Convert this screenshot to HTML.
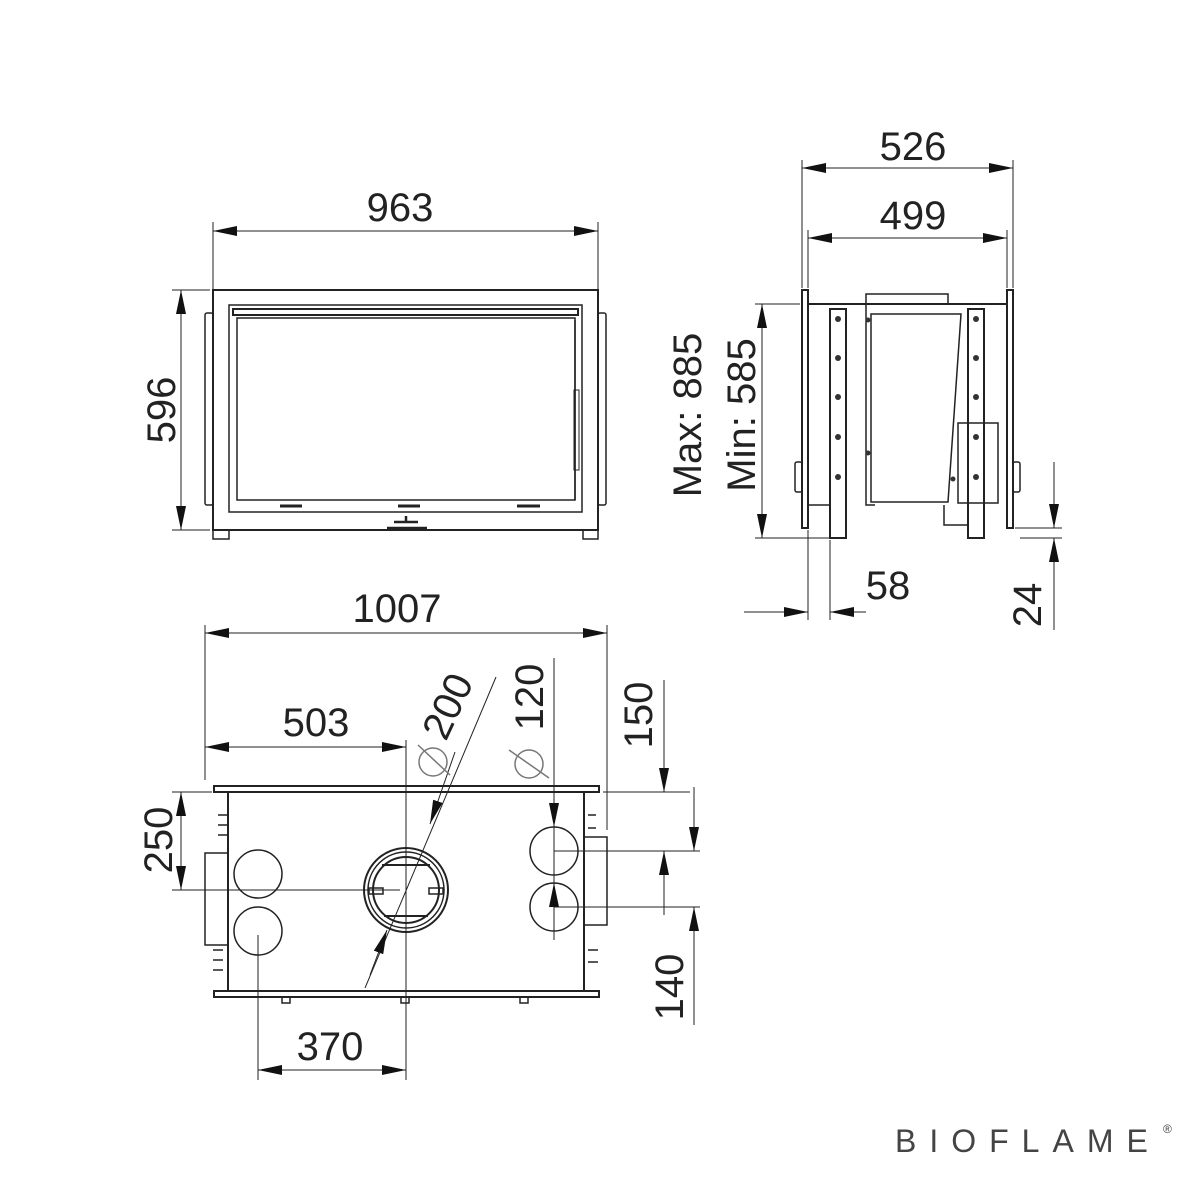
<!DOCTYPE html>
<html><head><meta charset="utf-8"><style>html,body{margin:0;padding:0;background:#fff}svg{display:block}</style></head><body>
<svg width="1200" height="1200" viewBox="0 0 1200 1200" xmlns="http://www.w3.org/2000/svg" font-family="Liberation Sans, sans-serif">
<defs>
<marker id="a" viewBox="0 0 24 10" refX="24" refY="5" markerWidth="24" markerHeight="10" markerUnits="userSpaceOnUse" orient="auto-start-reverse"><path d="M0,0 L24,5 L0,10Z" fill="#111"/></marker>
</defs>
<g stroke="#222" fill="none" stroke-width="1.5">
<rect x="213" y="290" width="385" height="240" stroke-width="2"/>
<rect x="229" y="305" width="353" height="207"/>
<rect x="233" y="309" width="345" height="6" stroke-width="2"/>
<rect x="237" y="318" width="338" height="182"/>
<rect x="205" y="313" width="8" height="192" rx="2"/>
<rect x="598" y="313" width="8" height="192" rx="2"/>
<rect x="213" y="530" width="16" height="9"/>
<rect x="583" y="530" width="15" height="9"/>
<line x1="575" y1="320" x2="575" y2="500"/>
<rect x="574" y="390" width="5" height="80" stroke-width="1"/>
<line x1="280" y1="506" x2="302" y2="506" stroke-width="3"/>
<line x1="398" y1="506" x2="420" y2="506" stroke-width="3"/>
<line x1="517" y1="506" x2="540" y2="506" stroke-width="3"/>
<path d="M394,522 L418,522 M406,516 L406,522 M387,528 L427,528" stroke-width="2.5"/>
<line x1="213" y1="222" x2="213" y2="290" stroke-width="1"/>
<line x1="598" y1="222" x2="598" y2="290" stroke-width="1"/>
<line x1="213" y1="231" x2="598" y2="231" stroke-width="1" marker-start="url(#a)" marker-end="url(#a)"/>
<line x1="172" y1="290" x2="210" y2="290" stroke-width="1"/>
<line x1="172" y1="530" x2="210" y2="530" stroke-width="1"/>
<line x1="181" y1="290" x2="181" y2="530" stroke-width="1" marker-start="url(#a)" marker-end="url(#a)"/>

<rect x="802" y="290" width="6" height="238" stroke-width="2"/>
<rect x="1007" y="290" width="6" height="238" stroke-width="2"/>
<line x1="808" y1="304" x2="1007" y2="304" stroke-width="2"/>
<rect x="866" y="294" width="82" height="10"/>
<rect x="830" y="309" width="16" height="229" stroke-width="2"/>
<rect x="968" y="309" width="16" height="229" stroke-width="2"/>
<path d="M871,314 L961,314 L948,502 L871,502 Z"/>
<path d="M866,304 L866,505 L875,505 M808,505 L830,505"/>
<rect x="958" y="423" width="40" height="80"/>
<rect x="795" y="462" width="7" height="30" rx="2"/>
<rect x="1013" y="462" width="7" height="30" rx="2"/>
<path d="M944,505 L944,525 L968,525"/>
<g fill="#333" stroke="none">
<circle cx="838" cy="319" r="3"/><circle cx="838" cy="358" r="3"/><circle cx="838" cy="397" r="3"/><circle cx="838" cy="437" r="3"/><circle cx="838" cy="477" r="3"/>
<circle cx="976" cy="319" r="3"/><circle cx="976" cy="358" r="3"/><circle cx="976" cy="397" r="3"/><circle cx="976" cy="437" r="3"/><circle cx="976" cy="477" r="3"/>
<circle cx="868" cy="320" r="2.5"/><circle cx="868" cy="453" r="2.5"/><circle cx="953" cy="479" r="2.5"/>
</g>
<line x1="802" y1="160" x2="802" y2="288" stroke-width="1"/>
<line x1="1013" y1="160" x2="1013" y2="288" stroke-width="1"/>
<line x1="808" y1="230" x2="808" y2="288" stroke-width="1"/>
<line x1="1007" y1="230" x2="1007" y2="288" stroke-width="1"/>
<line x1="802" y1="168" x2="1013" y2="168" stroke-width="1" marker-start="url(#a)" marker-end="url(#a)"/>
<line x1="808" y1="238" x2="1007" y2="238" stroke-width="1" marker-start="url(#a)" marker-end="url(#a)"/>
<line x1="755" y1="304" x2="800" y2="304" stroke-width="1"/>
<line x1="755" y1="538" x2="830" y2="538" stroke-width="1"/>
<line x1="762" y1="304" x2="762" y2="538" stroke-width="1" marker-start="url(#a)" marker-end="url(#a)"/>
<line x1="808" y1="530" x2="808" y2="620" stroke-width="1"/>
<line x1="830" y1="540" x2="830" y2="620" stroke-width="1"/>
<line x1="744" y1="612" x2="808" y2="612" stroke-width="1" marker-end="url(#a)"/>
<line x1="866" y1="612" x2="830" y2="612" stroke-width="1" marker-end="url(#a)"/>
<line x1="1015" y1="528" x2="1062" y2="528" stroke-width="1"/>
<line x1="1020" y1="538" x2="1062" y2="538" stroke-width="1"/>
<line x1="1054" y1="462" x2="1054" y2="528" stroke-width="1" marker-end="url(#a)"/>
<line x1="1054" y1="630" x2="1054" y2="538" stroke-width="1" marker-end="url(#a)"/>

<rect x="214" y="786" width="385" height="6" stroke-width="2"/>
<rect x="214" y="991" width="385" height="6" stroke-width="2"/>
<line x1="228" y1="792" x2="228" y2="991" stroke-width="2"/>
<line x1="584" y1="792" x2="584" y2="991" stroke-width="2"/>
<path d="M228,853 L205,853 L205,945 L228,945"/>
<path d="M584,837 L607,837 L607,925 L584,925"/>
<path d="M218,815 L228,815 M218,825 L228,825 M218,835 L228,835 M213,950 L223,950 M213,960 L223,960 M213,970 L223,970 M588,815 L596,815 M588,828 L596,828 M588,950 L598,950 M588,962 L598,962"/>
<circle cx="258" cy="874" r="24"/><circle cx="258" cy="931" r="24"/>
<circle cx="554" cy="851" r="24"/><circle cx="554" cy="907" r="24"/>
<circle cx="406" cy="890" r="42" stroke-width="2"/>
<circle cx="406" cy="890" r="38"/>
<circle cx="406" cy="890" r="33" stroke-width="2"/>
<path d="M382,865 L430,865 M384,916 L428,916" stroke-width="2"/>
<rect x="369" y="888" width="14" height="6"/><rect x="429" y="888" width="14" height="6"/>
<path d="M282,997 l0,6 l8,0 l0,-6 M401,997 l0,6 l8,0 l0,-6 M520,997 l0,6 l8,0 l0,-6"/>
<line x1="205" y1="625" x2="205" y2="780" stroke-width="1"/>
<line x1="607" y1="625" x2="607" y2="830" stroke-width="1"/>
<line x1="205" y1="633" x2="607" y2="633" stroke-width="1" marker-start="url(#a)" marker-end="url(#a)"/>
<line x1="406" y1="740" x2="406" y2="1080" stroke-width="1"/>
<line x1="205" y1="747" x2="406" y2="747" stroke-width="1" marker-start="url(#a)" marker-end="url(#a)"/>
<line x1="258" y1="935" x2="258" y2="1080" stroke-width="1"/>
<line x1="258" y1="1070" x2="406" y2="1070" stroke-width="1" marker-start="url(#a)" marker-end="url(#a)"/>
<line x1="172" y1="792" x2="212" y2="792" stroke-width="1"/>
<line x1="172" y1="890" x2="400" y2="890" stroke-width="1"/>
<line x1="181" y1="792" x2="181" y2="890" stroke-width="1" marker-start="url(#a)" marker-end="url(#a)"/>
<line x1="496" y1="677" x2="365" y2="988" stroke-width="1"/>
<line x1="455" y1="752" x2="430" y2="824" stroke-width="1" marker-end="url(#a)"/>
<line x1="370" y1="975" x2="387" y2="930" stroke-width="1" marker-end="url(#a)"/>
<line x1="554" y1="658" x2="554" y2="940" stroke-width="1"/>
<line x1="554" y1="790" x2="554" y2="827" stroke-width="1" marker-end="url(#a)"/>
<line x1="554" y1="910" x2="554" y2="883" stroke-width="1" marker-end="url(#a)"/>
<line x1="554" y1="851" x2="700" y2="851" stroke-width="1"/>
<line x1="554" y1="907" x2="700" y2="907" stroke-width="1"/>
<line x1="603" y1="792" x2="690" y2="792" stroke-width="1"/>
<line x1="664" y1="680" x2="664" y2="792" stroke-width="1" marker-end="url(#a)"/>
<line x1="664" y1="915" x2="664" y2="851" stroke-width="1" marker-end="url(#a)"/>
<line x1="694" y1="787" x2="694" y2="851" stroke-width="1" marker-end="url(#a)"/>
<line x1="694" y1="1025" x2="694" y2="907" stroke-width="1" marker-end="url(#a)"/>
</g>
<g stroke="#777" fill="none" stroke-width="1.5">
<circle cx="433" cy="762" r="14"/><line x1="418" y1="745" x2="450" y2="775"/>
<circle cx="529" cy="764" r="14"/><line x1="509" y1="750" x2="549" y2="778"/>
</g>
<g fill="#222" font-size="40" text-anchor="middle">
<text x="400" y="221">963</text>
<text transform="translate(175,410) rotate(-90)">596</text>
<text x="913" y="160">526</text>
<text x="913" y="229">499</text>
<text transform="translate(701,415) rotate(-90)">Max: 885</text>
<text transform="translate(755,415) rotate(-90)">Min: 585</text>
<text x="888" y="599">58</text>
<text transform="translate(1041,605) rotate(-90)">24</text>
<text x="397" y="622">1007</text>
<text x="316" y="736">503</text>
<text x="330" y="1060">370</text>
<text transform="translate(172,840) rotate(-90)">250</text>
<text transform="translate(460,712) rotate(-65)">200</text>
<text transform="translate(543,697) rotate(-90)">120</text>
<text transform="translate(652,715) rotate(-90)">150</text>
<text transform="translate(683,987) rotate(-90)">140</text>
</g>
<text x="895" y="1152" font-size="32" fill="#444" letter-spacing="13">BIOFLAME</text>
<text x="1163" y="1133" font-size="12" fill="#444">®</text>
</svg>
</body></html>
